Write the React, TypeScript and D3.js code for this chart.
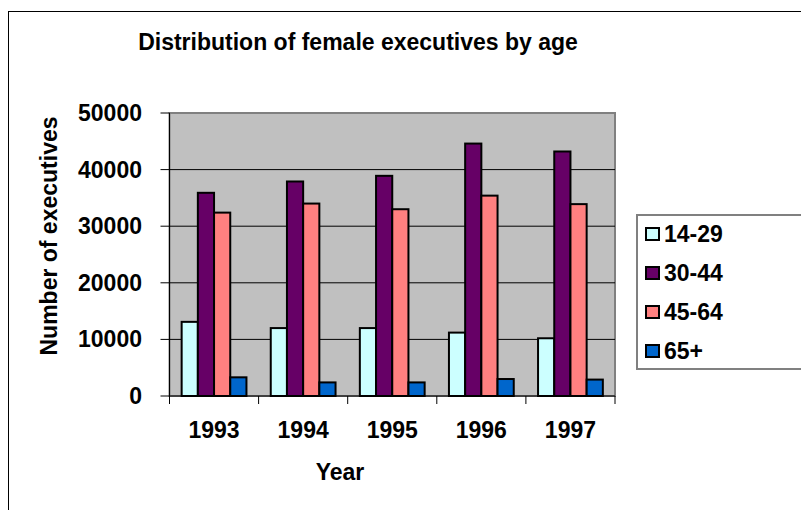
import React from 'react';
import * as d3 from 'd3';

const years = ['1993', '1994', '1995', '1996', '1997'];
const ageGroups = ['14-29', '30-44', '45-64', '65+'];
const age14to29 = [13100, 12000, 12000, 11200, 10200];
const age30to44 = [35900, 37900, 38900, 44600, 43200];
const age45to64 = [32400, 34000, 33000, 35400, 33900];
const age65plus = [3300, 2400, 2400, 3000, 2900];
const yTicks = [0, 10000, 20000, 30000, 40000, 50000];

const seriesValues = [age14to29, age30to44, age45to64, age65plus];
const COLORS = ['#CCFFFF', '#660066', '#FF8080', '#0066CC'];

const FONT = '"Liberation Sans", Arial, sans-serif';

export default function App() {
  const width = 801;
  const height = 510;
  const plot = { left: 169.5, right: 615, top: 113, bottom: 396 };

  const x0 = d3.scaleBand<string>().domain(years).range([plot.left, plot.right]).padding(0);
  // excel default gap width 150%
  const x1 = d3.scaleBand<string>().domain(ageGroups).range([0, x0.bandwidth()])
    .paddingInner(0).paddingOuter(0.75);
  const y = d3.scaleLinear().domain([0, 50000]).range([plot.bottom, plot.top]);

  const legendY = d3.scalePoint<string>().domain(ageGroups).range([234, 351]);

  const txt = { fontFamily: FONT, fontWeight: 700, fontSize: 23, fill: '#000' } as const;

  return (
    <svg width={width} height={height} style={{ position: 'absolute', left: 0, top: 0, background: '#fff' }}>
      {/* chart area border (continues past the window) */}
      <rect x={8.5} y={11.5} width={900} height={600} fill="#fff" stroke="#000" strokeWidth={1} />

      <text x={358} y={50} textAnchor="middle" {...txt}>Distribution of female executives by age</text>

      {/* plot area */}
      <rect x={plot.left} y={plot.top} width={plot.right - plot.left} height={plot.bottom - plot.top}
        fill="#C0C0C0" stroke="#808080" strokeWidth={2} />

      {yTicks.filter((t) => t > 0 && t < 50000).map((t) => (
        <line key={t} x1={plot.left} x2={plot.right} y1={y(t)} y2={y(t)} stroke="#000" strokeWidth={1} />
      ))}

      {years.map((yr, i) => (
        <g key={yr} transform={`translate(${x0(yr)},0)`}>
          {ageGroups.map((g, j) => {
            const v = seriesValues[j][i];
            return (
              <rect key={g} x={x1(g)} y={y(v)} width={x1.bandwidth()} height={y(0) - y(v)}
                fill={COLORS[j]} stroke="#000" strokeWidth={2} />
            );
          })}
        </g>
      ))}

      {/* axes */}
      <line x1={plot.left} x2={plot.left} y1={plot.top} y2={plot.bottom} stroke="#000" strokeWidth={1} />
      <line x1={plot.left} x2={plot.right} y1={plot.bottom} y2={plot.bottom} stroke="#000" strokeWidth={1} />
      {yTicks.map((t) => (
        <g key={t}>
          <line x1={plot.left - 9} x2={plot.left} y1={y(t)} y2={y(t)} stroke="#000" strokeWidth={1} />
          <text x={142} y={y(t)} dy="0.35em" textAnchor="end" {...txt}>{t}</text>
        </g>
      ))}
      {[...years.map((yr) => x0(yr) as number), plot.right].map((xv, i) => (
        <line key={i} x1={xv} x2={xv} y1={plot.bottom} y2={plot.bottom + 8} stroke="#000" strokeWidth={1} />
      ))}
      {years.map((yr) => (
        <text key={yr} x={(x0(yr) as number) + x0.bandwidth() / 2} y={438} textAnchor="middle" {...txt}>{yr}</text>
      ))}

      <text x={340} y={480} textAnchor="middle" {...txt}>Year</text>
      <text transform="translate(57,236) rotate(-90)" textAnchor="middle" {...txt}>Number of executives</text>

      {/* legend */}
      <rect x={637} y={215} width={200} height={154} fill="#fff" stroke="#808080" strokeWidth={2} />
      {ageGroups.map((g, j) => {
        const cy = legendY(g) as number;
        return (
          <g key={g}>
            <rect x={646} y={cy - 6} width={13} height={12} fill={COLORS[j]} stroke="#000" strokeWidth={2} />
            <text x={664} y={cy} dy="0.35em" {...txt}>{g}</text>
          </g>
        );
      })}
    </svg>
  );
}
